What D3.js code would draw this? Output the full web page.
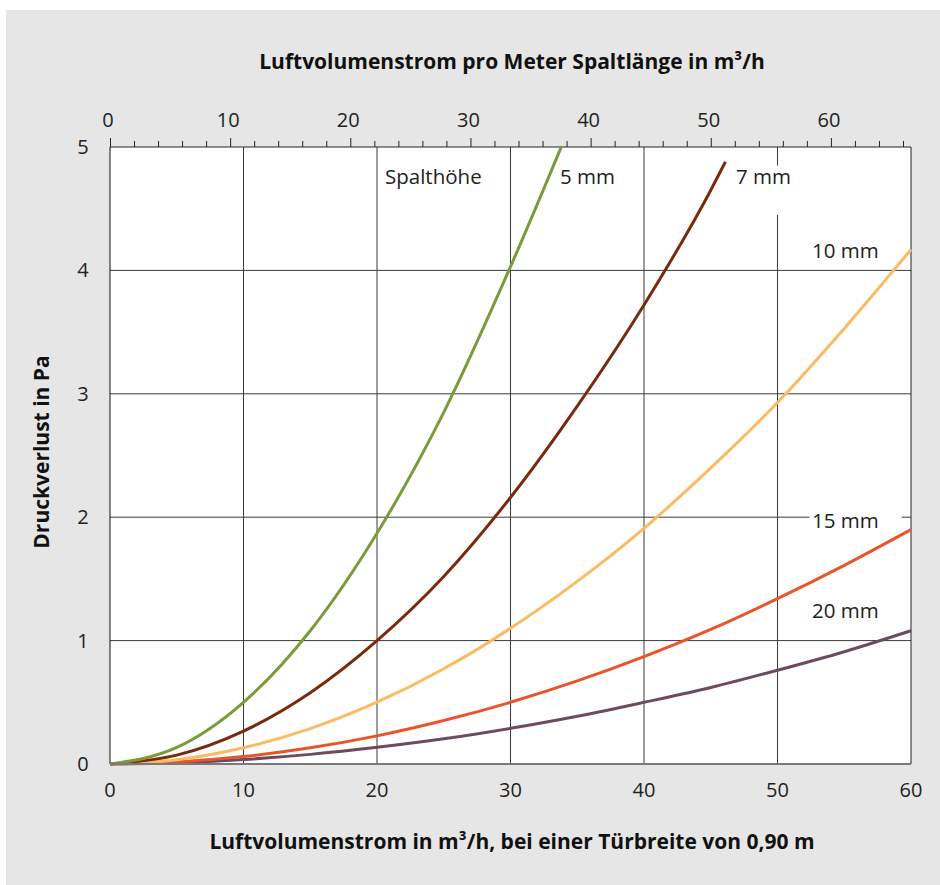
<!DOCTYPE html>
<html><head><meta charset="utf-8">
<script src="https://cdn.jsdelivr.net/npm/d3@7"></script>
<style>body{margin:0;background:#fff;} text{font-family:"Open Sans","Noto Sans",sans-serif;}</style>
</head><body>
<svg id="c" width="940" height="885"></svg>
<script>
const flow = [0,5,10,15,20,25,30,35,40,45,50,55,60];
const gap5  = [0,0.134,0.50,1.08,1.87,2.85,4.03];
const gap5End = [33.8,5.0];
const gap7  = [0,0.072,0.267,0.578,1.0,1.52,2.16,2.90,3.72,4.65];
const gap7End = [46.1,4.88];
const gap10 = [0,0.034,0.131,0.287,0.501,0.772,1.10,1.48,1.91,2.40,2.93,3.53,4.17];
const gap15 = [0,0.016,0.060,0.131,0.228,0.352,0.50,0.673,0.870,1.09,1.34,1.61,1.90];
const gap20 = [0,0.010,0.036,0.078,0.135,0.204,0.289,0.387,0.50,0.62,0.76,0.91,1.08];
const seriesNames = ["5 mm","7 mm","10 mm","15 mm","20 mm"];
const colors = ["#7b9a3c","#7a2a0c","#fbbb63","#eb5429","#6f4a5f"];
const bottomTicks = [0,10,20,30,40,50,60];
const topTicks = [0,10,20,30,40,50,60];
const yTicks = [0,1,2,3,4,5];

const svg = d3.select("#c");
svg.append("rect").attr("x",6).attr("y",10).attr("width",934).attr("height",875).attr("fill","#e6e6e6");

const x = d3.scaleLinear().domain([0,60]).range([110,911]);
const xTop = d3.scaleLinear().domain([0,60/0.9]).range([110,911]);
const y = d3.scaleLinear().domain([0,5]).range([764,147]);

svg.append("rect").attr("x",110).attr("y",147).attr("width",801).attr("height",617).attr("fill","#fff");

// grid
const g = svg.append("g");
[10,20,30,40,50].forEach(v=>{
  g.append("line").attr("x1",x(v)).attr("x2",x(v)).attr("y1",y(5)).attr("y2",y(0)).attr("stroke","#3a3a3a").attr("stroke-width",1);
});
[1,2,3,4].forEach(v=>{
  g.append("line").attr("x1",x(0)).attr("x2",x(60)).attr("y1",y(v)).attr("y2",y(v)).attr("stroke","#3a3a3a").attr("stroke-width",1);
});
// frame
svg.append("line").attr("x1",x(0)).attr("x2",x(60)).attr("y1",y(5)).attr("y2",y(5)).attr("stroke","#222");
svg.append("line").attr("x1",x(60)).attr("x2",x(60)).attr("y1",y(5)).attr("y2",y(0)).attr("stroke","#222");
svg.append("line").attr("x1",x(0)).attr("x2",x(0)).attr("y1",y(5)).attr("y2",y(0)).attr("stroke","#111");

function bgRect(x0,y0,w,h){svg.append("rect").attr("x",x0).attr("y",y0).attr("width",w).attr("height",h).attr("fill","#fff");}
bgRect(x(46.8),y(4.85),x(51.5)-x(46.8),y(4.45)-y(4.85));
bgRect(x(52.4),y(2.05),x(59.3)-x(52.4),y(1.88)-y(2.05));

// series
const line = d3.line().x(d=>x(d[0])).y(d=>y(d[1])).curve(d3.curveMonotoneX);
const data = [
  flow.slice(0,gap5.length).map((f,i)=>[f,gap5[i]]).concat([gap5End]),
  flow.slice(0,gap7.length).map((f,i)=>[f,gap7[i]]).concat([gap7End]),
  flow.map((f,i)=>[f,gap10[i]]),
  flow.map((f,i)=>[f,gap15[i]]),
  flow.map((f,i)=>[f,gap20[i]])
];
const order=[4,3,2,1,0];
order.forEach(i=>{
  svg.append("path").attr("d",line(data[i])).attr("fill","none").attr("stroke",colors[i]).attr("stroke-width",3);
});

// bottom axis line
svg.append("line").attr("x1",x(0)).attr("x2",x(60)).attr("y1",y(0)).attr("y2",y(0)).attr("stroke","#7a7a7a").attr("stroke-width",2);

// top ticks
const topAxis = d3.axisTop(xTop).tickValues(d3.range(0,67,2)).tickSize(6).tickFormat("");
const ta = svg.append("g").attr("transform",`translate(0,${y(5)})`).call(topAxis);
ta.select(".domain").remove();
ta.selectAll(".tick line").attr("stroke","#222").attr("y2",d=>d%10===0?-9:-6);
topTicks.forEach(v=>{
  svg.append("text").attr("x",xTop(v)-2).attr("y",127).attr("text-anchor","middle").attr("font-size",20).attr("fill","#222").text(v);
});
// bottom labels
bottomTicks.forEach(v=>{
  svg.append("text").attr("x",x(v)).attr("y",797).attr("text-anchor","middle").attr("font-size",20).attr("fill","#222").text(v);
});
// y labels
yTicks.forEach(v=>{
  svg.append("text").attr("x",83).attr("y",y(v)+7).attr("text-anchor","middle").attr("font-size",20).attr("fill","#222").text(v);
});

// titles
svg.append("text").attr("x",512).attr("y",69).attr("text-anchor","middle").attr("font-size",21).attr("font-weight","bold").attr("fill","#111").text("Luftvolumenstrom pro Meter Spaltlänge in m³/h");
svg.append("text").attr("x",512).attr("y",849).attr("text-anchor","middle").attr("font-size",21).attr("font-weight","bold").attr("fill","#111").text("Luftvolumenstrom in m³/h, bei einer Türbreite von 0,90 m");
svg.append("text").attr("transform","translate(49,452) rotate(-90)").attr("text-anchor","middle").attr("font-size",21).attr("font-weight","bold").attr("fill","#111").text("Druckverlust in Pa");

// series labels
const lab = [
  ["Spalthöhe",385,184],
  [seriesNames[0],560,184],
  [seriesNames[1],736,184],
  [seriesNames[2],812,258],
  [seriesNames[3],812,528],
  [seriesNames[4],812,618]
];
lab.forEach(d=>{
  svg.append("text").attr("x",d[1]).attr("y",d[2]).attr("font-size",20.5).attr("fill","#222").text(d[0]);
});
</script>
</body></html>
